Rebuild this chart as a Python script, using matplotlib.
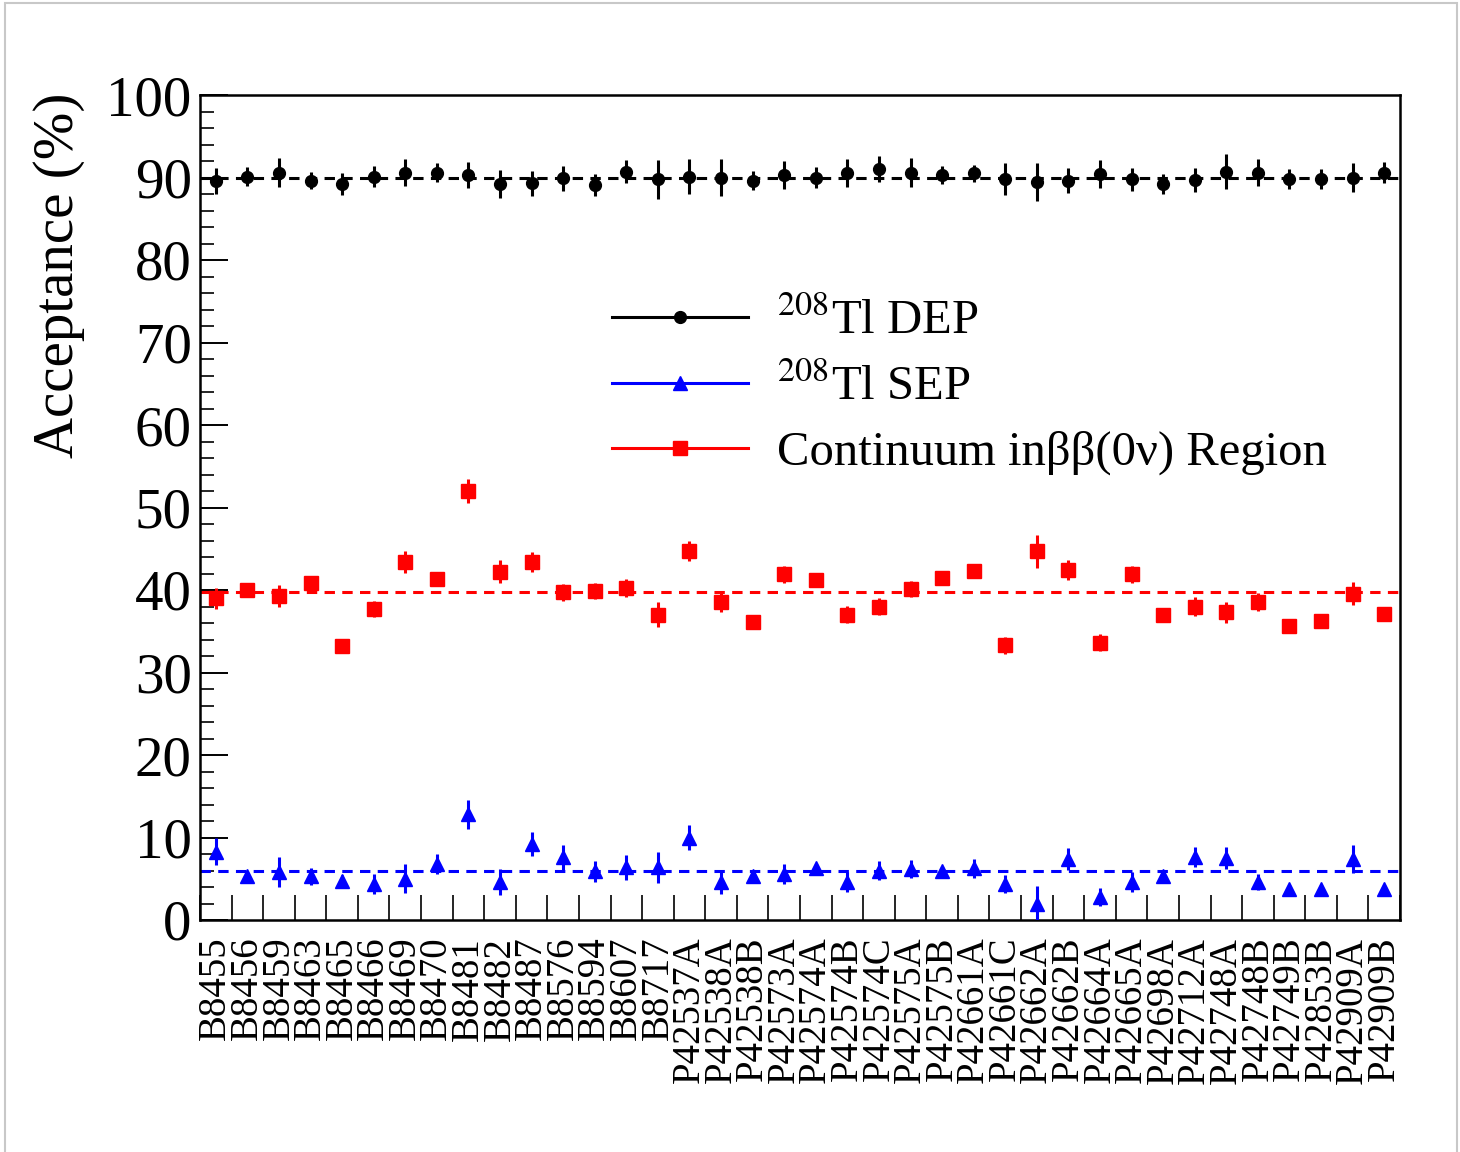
import numpy as np
import matplotlib
matplotlib.use("Agg")
from matplotlib import pyplot as plt
from matplotlib.lines import Line2D
from matplotlib.patches import Rectangle

plt.rcParams['font.family'] = ['Liberation Serif', 'DejaVu Serif']
plt.rcParams['mathtext.fontset'] = 'stix'

# detector runs on the x axis
runs = ['B8455', 'B8456', 'B8459', 'B8463', 'B8465', 'B8466', 'B8469', 'B8470',
        'B8481', 'B8482', 'B8487', 'B8576', 'B8594', 'B8607', 'B8717', 'P42537A',
        'P42538A', 'P42538B', 'P42573A', 'P42574A', 'P42574B', 'P42574C',
        'P42575A', 'P42575B', 'P42661A', 'P42661C', 'P42662A', 'P42662B',
        'P42664A', 'P42665A', 'P42698A', 'P42712A', 'P42748A', 'P42748B',
        'P42749B', 'P42853B', 'P42909A', 'P42909B']

# 208Tl double escape peak acceptance (%)
dep = [89.6, 90.1, 90.6, 89.6, 89.2, 90.1, 90.6, 90.6, 90.3, 89.2, 89.3, 89.9,
       89.1, 90.7, 89.8, 90.1, 90.0, 89.6, 90.3, 90.0, 90.6, 91.0, 90.6, 90.3,
       90.5, 89.8, 89.5, 89.6, 90.4, 89.8, 89.2, 89.7, 90.7, 90.6, 89.8, 89.8,
       90.0, 90.6]
dep_err = [1.6, 1.15, 1.75, 1.05, 1.3, 1.3, 1.65, 1.2, 1.55, 1.7, 1.5, 1.5,
           1.3, 1.4, 2.35, 2.15, 2.25, 1.15, 1.7, 1.3, 1.7, 1.55, 1.75, 1.1,
           1.05, 1.95, 2.3, 1.5, 1.7, 1.4, 1.2, 1.5, 2.1, 1.6, 1.2, 1.2, 1.7, 1.3]

# 208Tl single escape peak acceptance (%)
sep = [8.3, 5.3, 5.8, 5.3, 4.7, 4.4, 5.0, 6.8, 12.8, 4.6, 9.2, 7.6, 5.9, 6.4,
       6.4, 10.0, 4.6, 5.3, 5.6, 6.3, 4.6, 6.0, 6.2, 6.0, 6.3, 4.4, 2.0, 7.4,
       2.8, 4.6, 5.3, 7.6, 7.5, 4.6, 3.8, 3.8, 7.4, 3.8]
sep_err = [1.65, 0.5, 1.8, 1.0, 0.8, 1.2, 1.75, 1.2, 1.75, 1.6, 1.5, 1.5, 1.3,
           1.5, 1.9, 1.55, 1.4, 0.5, 1.2, 0.5, 1.25, 1.2, 1.1, 0.6, 1.15, 1.1,
           2.1, 1.35, 1.1, 1.2, 0.5, 1.2, 1.3, 1.0, 0.5, 0.5, 1.7, 0.5]

# continuum around Qbb acceptance (%)
cont = [39.0, 40.0, 39.3, 40.9, 33.2, 37.7, 43.4, 41.3, 52.0, 42.2, 43.4, 39.7,
        39.9, 40.2, 37.0, 44.7, 38.5, 36.1, 41.9, 41.25, 37.0, 38.0, 40.15,
        41.45, 42.25, 33.3, 44.7, 42.4, 33.6, 41.9, 37.0, 38.0, 37.3, 38.55,
        35.65, 36.2, 39.55, 37.1]
cont_err = [1.3, 0.6, 1.3, 0.6, 0.6, 0.95, 1.3, 0.6, 1.4, 1.4, 1.2, 1.0, 1.0,
            1.1, 1.5, 1.2, 1.2, 0.6, 1.0, 0.6, 1.05, 1.05, 1.0, 0.6, 0.6, 1.0,
            2.0, 1.2, 1.05, 1.05, 0.6, 1.15, 1.3, 1.1, 0.6, 0.6, 1.4, 0.6]

# average acceptances (dashed lines)
dep_avg = 90.0
sep_avg = 6.0
cont_avg = 39.75

fig = plt.figure(figsize=(14.6, 11.52), dpi=100)
ax = fig.add_axes([200/1460, 1 - 920/1152, 1200/1460, 825/1152])

x = np.arange(len(runs))
lw = 2.2
series = [
    (dep, dep_err, dep_avg, 'black', 'o', 8.5, r'$^{208}$Tl DEP'),
    (sep, sep_err, sep_avg, 'blue', '^', 10, r'$^{208}$Tl SEP'),
    (cont, cont_err, cont_avg, 'red', 's', 9.5, 'Continuum inββ(0ν) Region'),
]
handles = []
for vals, errs, avg, col, mk, ms, lab in series:
    ax.axhline(avg, color=col, lw=lw, dashes=(3.4, 2.4), zorder=2)
    ax.errorbar(x, vals, yerr=errs, fmt=mk, color=col, ms=ms, elinewidth=lw,
                capsize=0, zorder=3)
    handles.append(Line2D([], [], color=col, marker=mk, ms=ms, lw=lw,
                          label=lab))

ax.set_xlim(-0.5, len(runs) - 0.5)
ax.set_ylim(0, 100)

# labels sit at run centres, tick marks at run boundaries
ax.set_xticks(x)
ax.set_xticklabels(runs, rotation=90, fontsize=28)
ax.set_xticks(np.arange(len(runs) + 1) - 0.5, minor=True)
ax.tick_params(axis='x', which='major', length=0, pad=12)
ax.tick_params(axis='x', which='minor', direction='in', length=18, width=1.2)

ax.set_yticks(np.arange(0, 101, 10))
ax.set_yticks(np.arange(0, 101, 2), minor=True)
ax.tick_params(axis='y', which='major', direction='in', length=20, width=1.4,
               labelsize=41, pad=6)
ax.tick_params(axis='y', which='minor', direction='in', length=10, width=1.2)
ax.tick_params(top=False, right=False, which='both')

for sp in ax.spines.values():
    sp.set_linewidth(1.8)

ax.set_ylabel('Acceptance (%)', fontsize=41)
ax.yaxis.set_label_coords(-0.096, 0.782)

ax.legend(handles=handles, loc='upper left', frameon=False, fontsize=35,
          bbox_to_anchor=(612/1460, 1 - 299/1152),
          bbox_transform=fig.transFigure, handlelength=2.8,
          handletextpad=0.6, labelspacing=0.42, borderpad=0, borderaxespad=0)

# canvas border
fig.add_artist(Rectangle((5/1460, -0.01), 1452/1460, 1.01 - 3/1152,
                         transform=fig.transFigure, fill=False,
                         edgecolor='#c8c8c8', lw=1.5))

fig.savefig('out.png', dpi=100)
